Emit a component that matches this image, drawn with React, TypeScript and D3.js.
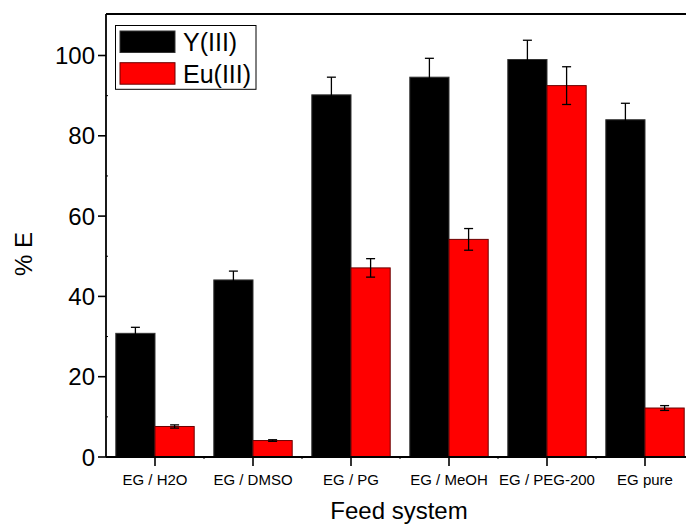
import React from "react";
import * as d3 from "d3";

const categories = ["EG / H2O", "EG / DMSO", "EG / PG", "EG / MeOH", "EG / PEG-200", "EG pure"];
const seriesNames = ["Y(III)", "Eu(III)"];
const yValues = [30.8, 44.1, 90.2, 94.6, 99.0, 84.0];
const yErrors = [1.5, 2.2, 4.4, 4.7, 4.8, 4.1];
const euValues = [7.6, 4.1, 47.1, 54.2, 92.5, 12.2];
const euErrors = [0.4, 0.2, 2.3, 2.7, 4.7, 0.6];
const yTicks = [0, 20, 40, 60, 80, 100];
const yMinorTicks = [10, 30, 50, 70, 90];
const fills = ["#000000", "#ff0000"];
const outlines = ["#333333", "#6b0000"];

const W = 686;
const H = 525;
const left = 106;
const top = 14;
const bottom = 457;
const step = 98;

export default function App() {
  const x0 = d3.scaleBand<string>().domain(categories).range([left, left + step * categories.length]).padding(0);
  const groupW = x0.bandwidth() * 0.8;
  const x1 = d3.scaleBand<string>().domain(seriesNames).range([-groupW / 2, groupW / 2]).padding(0);
  const y = d3.scaleLinear().domain([0, 110]).range([bottom, bottom - 110 * 4.015]);

  const series = [
    { name: seriesNames[0], values: yValues, errors: yErrors },
    { name: seriesNames[1], values: euValues, errors: euErrors },
  ];

  const font = "Arial, 'Liberation Sans', Helvetica, sans-serif";
  const center = (c: string) => (x0(c) as number) + x0.bandwidth() / 2;

  return (
    <svg width={W} height={H} style={{ position: "absolute", left: 0, top: 0, background: "#fff" }} fontFamily={font}>
      {/* bars */}
      {series.map((s, si) =>
        categories.map((c, ci) => {
          const bx = center(c) + (x1(s.name) as number);
          const v = s.values[ci];
          return (
            <rect
              key={`b-${si}-${ci}`}
              x={bx}
              y={y(v)}
              width={x1.bandwidth()}
              height={bottom - y(v)}
              fill={fills[si]}
              stroke={outlines[si]}
              strokeWidth={1}
            />
          );
        })
      )}
      {/* error bars */}
      {series.map((s, si) =>
        categories.map((c, ci) => {
          const cx = center(c) + (x1(s.name) as number) + x1.bandwidth() / 2;
          const v = s.values[ci];
          const e = s.errors[ci];
          const hi = y(v + e);
          const lo = y(v - e);
          return (
            <g key={`e-${si}-${ci}`} stroke="#000" strokeWidth={1.3}>
              <line x1={cx} x2={cx} y1={hi} y2={lo} />
              <line x1={cx - 4.5} x2={cx + 4.5} y1={hi} y2={hi} />
              <line x1={cx - 4.5} x2={cx + 4.5} y1={lo} y2={lo} />
            </g>
          );
        })
      )}
      {/* frame */}
      <g stroke="#000" strokeWidth={1.8} fill="none">
        <line x1={left} x2={W} y1={top} y2={top} />
        <line x1={left} x2={left} y1={top} y2={bottom} />
        <line x1={left} x2={W} y1={bottom} y2={bottom} />
      </g>
      {/* y axis ticks */}
      {yTicks.map((t) => (
        <g key={`yt-${t}`}>
          <line x1={left - 8} x2={left} y1={y(t)} y2={y(t)} stroke="#000" strokeWidth={1.6} />
          <text x={left - 11} y={y(t)} dy="0.36em" textAnchor="end" fontSize={24} fill="#000">
            {t}
          </text>
        </g>
      ))}
      {yMinorTicks.map((t) => (
        <line key={`ym-${t}`} x1={left} x2={left + 2} y1={y(t)} y2={y(t)} stroke="#000" strokeWidth={1} />
      ))}
      {/* x axis ticks */}
      {categories.map((c) => (
        <g key={`xt-${c}`}>
          <line x1={center(c)} x2={center(c)} y1={bottom} y2={bottom + 9} stroke="#000" strokeWidth={1.6} />
          <text x={center(c)} y={485} textAnchor="middle" fontSize={15} fill="#000">
            {c}
          </text>
        </g>
      ))}
      {categories.slice(1).map((c) => (
        <line key={`xm-${c}`} x1={x0(c) as number} x2={x0(c) as number} y1={bottom} y2={bottom + 2} stroke="#000" strokeWidth={1} />
      ))}
      {/* axis titles */}
      <text x={399} y={519} textAnchor="middle" fontSize={24} fill="#000">
        Feed system
      </text>
      <text transform="translate(32,254) rotate(-90)" textAnchor="middle" fontSize={24} fill="#000">
        % E
      </text>
      {/* legend */}
      <rect x={115.5} y={25.5} width={140.5} height={63.8} fill="#fff" stroke="#000" strokeWidth={1} />
      {seriesNames.map((n, i) => (
        <g key={`lg-${n}`}>
          <rect x={120} y={31 + i * 31.7} width={55} height={21.5} fill={fills[i]} stroke={outlines[i]} strokeWidth={1} />
          <text x={183} y={42 + i * 31.7} dy="0.36em" fontSize={25} fill="#000">
            {n}
          </text>
        </g>
      ))}
    </svg>
  );
}
